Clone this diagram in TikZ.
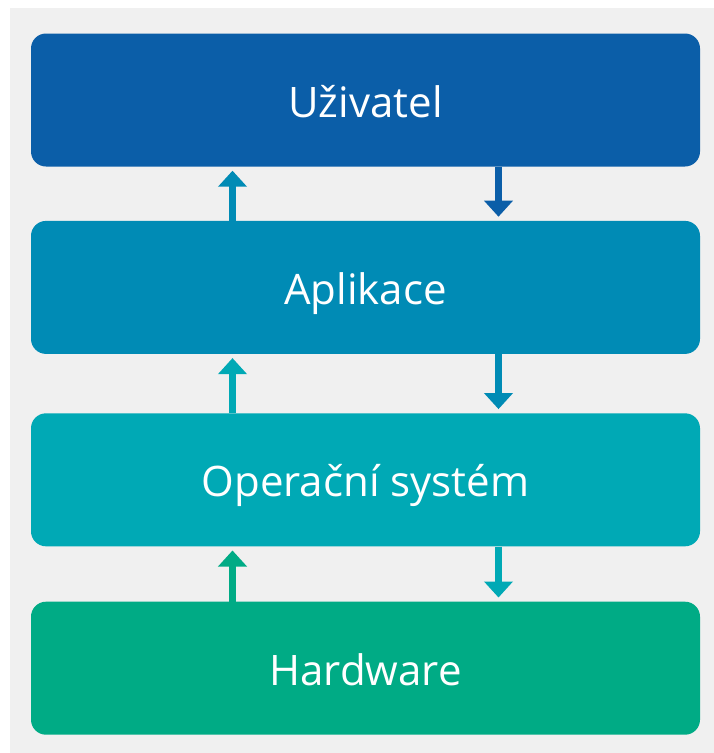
\documentclass[tikz,border=0pt]{standalone}
\usepackage{fontspec}
\setmainfont{Open Sans}
\usetikzlibrary{arrows.meta,positioning}

\definecolor{userblue}{HTML}{0B5EA8}
\definecolor{appblue}{HTML}{008BB5}
\definecolor{osteal}{HTML}{00A9B5}
\definecolor{hwgreen}{HTML}{00AB85}
\definecolor{panel}{HTML}{F0F0F0}

\tikzset{
  layer/.style={rectangle, rounded corners=15pt, minimum width=669pt, minimum height=133pt,
    inner sep=0pt, text height=46pt, text depth=12pt, text=white,
    font=\fontsize{42}{46}\selectfont},
  flow/.style={line width=7pt, -{Triangle[width=28pt,length=16pt]}, shorten >=4pt}
}

\begin{document}
\begin{tikzpicture}[x=1pt,y=-1pt,node distance=55pt]
  \useasboundingbox (0,0) rectangle (714,753);
  \fill[panel] (10,8) rectangle (714,753);

  \node[layer, fill=userblue] (user) at (365.5,100) {Uživatel};
  \node[layer, fill=appblue]  (app)  [below=54pt of user] {Aplikace};
  \node[layer, fill=osteal]   (os)   [below=59pt of app]  {Operační systém};
  \node[layer, fill=hwgreen]  (hw)   [below=55pt of os]   {Hardware};

  % nahoru vlevo, dolu vpravo
  \draw[flow, appblue]  ([xshift=-133pt]app.north) -- ([xshift=-133pt]user.south);
  \draw[flow, userblue] ([xshift=133pt]user.south) -- ([xshift=133pt]app.north);
  \draw[flow, osteal]   ([xshift=-133pt]os.north)  -- ([xshift=-133pt]app.south);
  \draw[flow, appblue]  ([xshift=133pt]app.south)  -- ([xshift=133pt]os.north);
  \draw[flow, hwgreen]  ([xshift=-133pt]hw.north)  -- ([xshift=-133pt]os.south);
  \draw[flow, osteal]   ([xshift=133pt]os.south)   -- ([xshift=133pt]hw.north);
\end{tikzpicture}
\end{document}
